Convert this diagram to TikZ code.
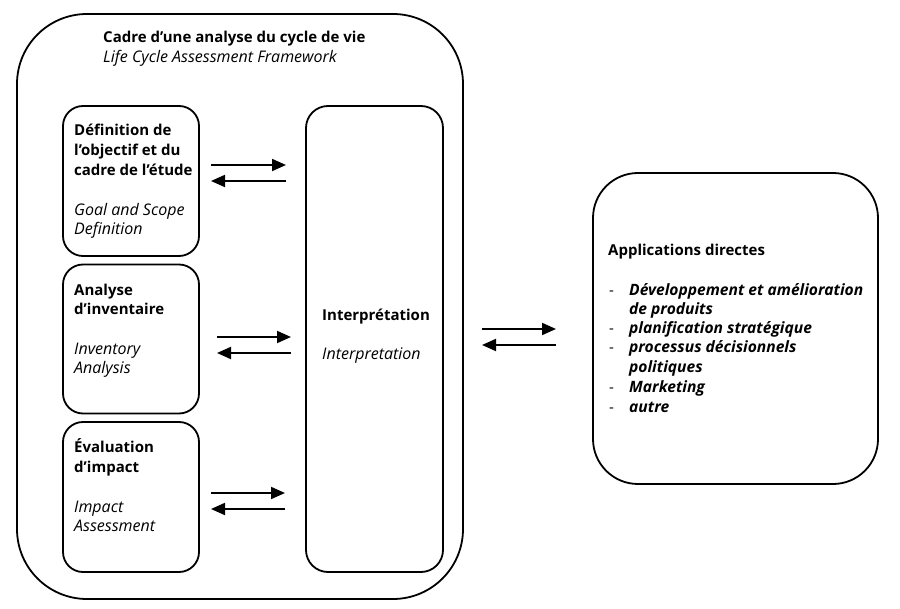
\documentclass[tikz,border=0pt]{standalone}
\usepackage{fontspec}
\setmainfont{Open Sans}
\usetikzlibrary{arrows.meta}
\begin{document}
\begin{tikzpicture}[x=1pt,y=-1pt,
  box/.style={draw,line width=1.8pt,inner sep=0pt,outer sep=0pt},
  txt/.style={anchor=mid west,inner sep=0pt,yshift=-3pt},
  t/.style={txt,font=\fontsize{15}{18}\selectfont\bfseries},
  ti/.style={txt,font=\fontsize{16}{19}\selectfont\itshape},
  tbi/.style={txt,font=\fontsize{15.6}{19}\selectfont\bfseries\itshape},
  bullet/.style={txt,font=\fontsize{15}{18}\selectfont},
  arr/.style={line width=1.9pt,-{Triangle[length=14pt,width=12pt]}}]
\useasboundingbox (0,0) rectangle (900,609);
% boxes
\node[box,rounded corners=70pt,minimum width=446pt,minimum height=585pt] (outer) at (240,306.5) {};
\node[box,rounded corners=20pt,minimum width=136pt,minimum height=150pt] (b1) at (131,181) {};
\node[box,rounded corners=20pt,minimum width=136pt,minimum height=149pt] (b2) at (131,339) {};
\node[box,rounded corners=20pt,minimum width=136pt,minimum height=150pt] (b3) at (131,497) {};
\node[box,rounded corners=22pt,minimum width=137pt,minimum height=466pt] (interp) at (374.5,339) {};
\node[box,rounded corners=45pt,minimum width=285pt,minimum height=311pt] (app) at (735.5,328.5) {};
% title
\node[t] (title1) at (103,37) {Cadre d’une analyse du cycle de vie};
\node[ti] (title2) at (103,57) {Life Cycle Assessment Framework};
% box 1
\node[t] (b1a) at (74,130) {Définition de};
\node[t] (b1b) at (74,150) {l’objectif et du};
\node[t] (b1c) at (74,170) {cadre de l’étude};
\node[ti] (b1d) at (74,210) {Goal and Scope};
\node[ti] (b1e) at (74,229) {Definition};
% box 2
\node[t] (b2a) at (74,290) {Analyse};
\node[t] (b2b) at (74,309) {d’inventaire};
\node[ti] (b2c) at (74,349) {Inventory};
\node[ti] (b2d) at (74,368) {Analysis};
% box 3
\node[t] (b3a) at (74,447) {Évaluation};
\node[t] (b3b) at (74,467) {d’impact};
\node[ti] (b3c) at (74,507) {Impact};
\node[ti] (b3d) at (74,526) {Assessment};
% interpretation
\node[t] (ia) at (322,315) {Interprétation};
\node[ti] (ib) at (322,354) {Interpretation};
% applications
\node[t] (aa) at (608,250) {Applications directes};
\node[bullet] (d1) at (609,290) {-};
\node[tbi] (l1) at (629,290) {Développement et amélioration};
\node[tbi] (l1b) at (629,309) {de produits};
\node[bullet] (d2) at (609,328) {-};
\node[tbi] (l2) at (629,328) {planification stratégique};
\node[bullet] (d3) at (609,347) {-};
\node[tbi] (l3) at (629,347) {processus décisionnels};
\node[tbi] (l3b) at (629,367) {politiques};
\node[bullet] (d4) at (609,387) {-};
\node[tbi] (l4) at (629,387) {Marketing};
\node[bullet] (d5) at (609,407) {-};
\node[tbi] (l5) at (629,407) {autre};
% arrow ends
\coordinate (p1l) at (211,165); \coordinate (p1r) at (286,165);
\coordinate (q1l) at (211,181); \coordinate (q1r) at (286,181);
\coordinate (p2l) at (217,337); \coordinate (p2r) at (291,337);
\coordinate (q2l) at (217,353); \coordinate (q2r) at (291,353);
\coordinate (p3l) at (211,493); \coordinate (p3r) at (285,493);
\coordinate (q3l) at (211,509); \coordinate (q3r) at (285,509);
\coordinate (p4l) at (482,329); \coordinate (p4r) at (556,329);
\coordinate (q4l) at (482,345); \coordinate (q4r) at (556,345);
\draw[arr] (p1l) -- (p1r);
\draw[arr] (q1r) -- (q1l);
\draw[arr] (p2l) -- (p2r);
\draw[arr] (q2r) -- (q2l);
\draw[arr] (p3l) -- (p3r);
\draw[arr] (q3r) -- (q3l);
\draw[arr] (p4l) -- (p4r);
\draw[arr] (q4r) -- (q4l);
\end{tikzpicture}
\end{document}
